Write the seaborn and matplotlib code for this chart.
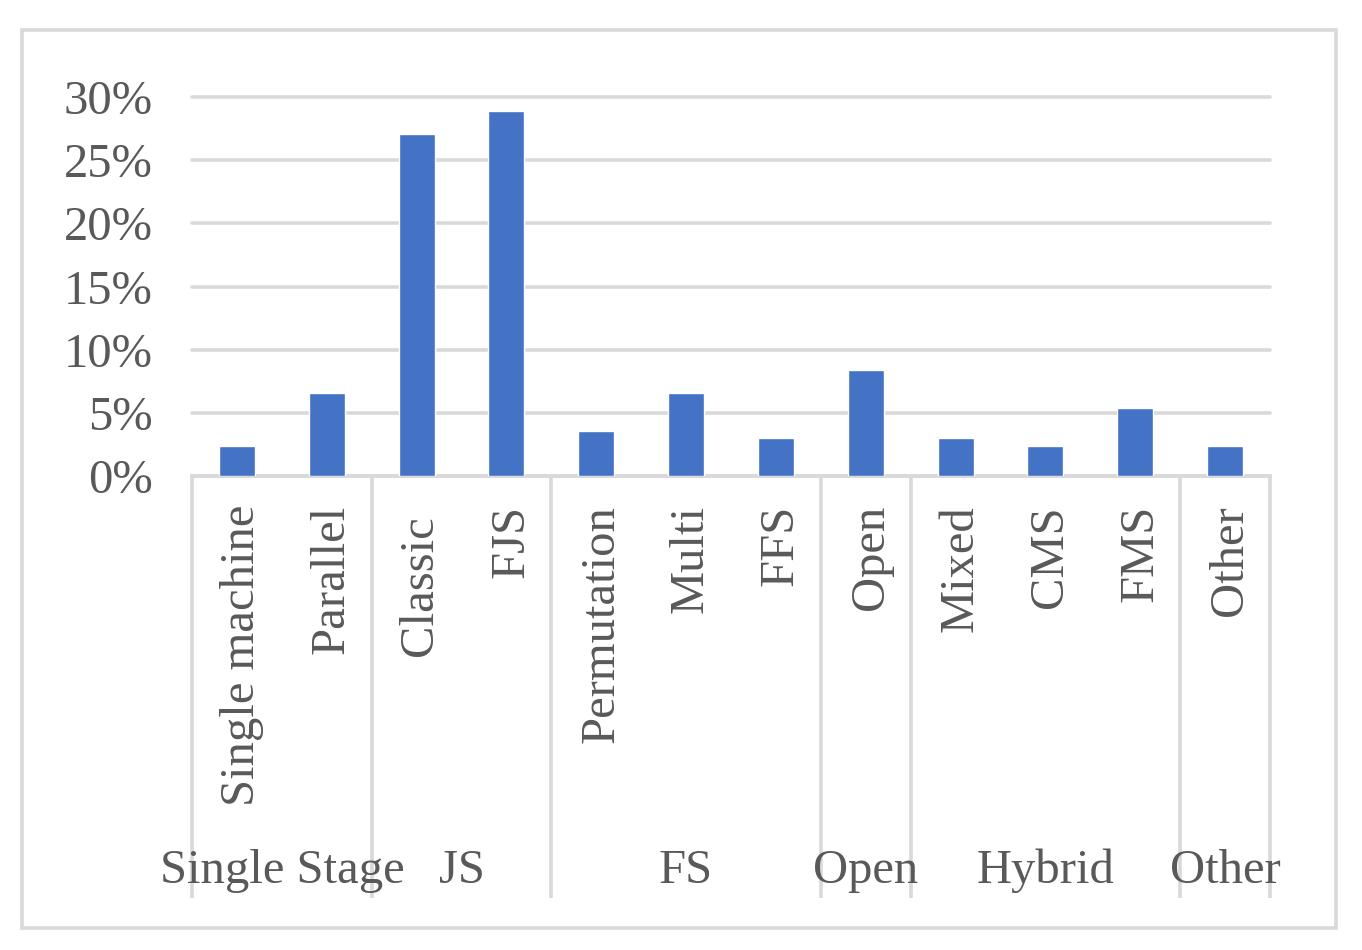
import matplotlib
matplotlib.use("Agg")
import matplotlib.pyplot as plt
import matplotlib.transforms as mtransforms
from matplotlib.patches import Rectangle
from matplotlib.ticker import PercentFormatter
import seaborn as sns

# ---- data ----
categories = ["Single machine", "Parallel", "Classic", "FJS", "Permutation", "Multi",
              "FFS", "Open", "Mixed", "CMS", "FMS", "Other"]
tick_labels = ["Single machine", "Parallel", "Classic ", "FJS", "Permutation", "Multi",
               "FFS", "Open", "Mixed", "CMS", "FMS", "Other"]
values = [0.0237, 0.0659, 0.2706, 0.2888, 0.0356, 0.0659,
          0.0300, 0.0839, 0.0300, 0.0237, 0.0538, 0.0237]
groups = ["Single Stage", "JS", "FS", "Open", "Hybrid", "Other"]
group_sizes = [2, 2, 3, 1, 3, 1]
y_ticks = [0.0, 0.05, 0.10, 0.15, 0.20, 0.25, 0.30]

sns.set_theme(style="white")
plt.rcParams["font.family"] = ["Liberation Serif", "DejaVu Serif"]

GRID = "#d9d9d9"
TXT = "#595959"
FS = 35

W, H = 1362, 950
fig = plt.figure(figsize=(W / 100, H / 100), dpi=100)
ax = fig.add_axes([192 / W, 1 - 476 / H, (1270 - 192) / W, (476 - 97) / H])

sns.barplot(x=categories, y=values, color="#4472C4", saturation=1, width=0.4, ax=ax)

ax.set_xlim(-0.5, len(categories) - 0.5)
ax.set_ylim(0, 0.30)
ax.set_yticks(y_ticks)
ax.yaxis.set_major_formatter(PercentFormatter(1.0, decimals=0))
ax.tick_params(axis="y", length=0, pad=28, labelsize=FS, labelcolor=TXT)
ax.set_xticks([])
ax.set_xlabel("")
ax.set_ylabel("")
ax.yaxis.grid(True, color=GRID, lw=2.6)
ax.set_axisbelow(True)
for gl in ax.get_ygridlines():
    gl.set_clip_on(False)
for s in ["top", "right", "left"]:
    ax.spines[s].set_visible(False)
ax.spines["bottom"].set_color(GRID)
ax.spines["bottom"].set_linewidth(2.6)
ax.spines["bottom"].set_zorder(0.5)

trans = mtransforms.blended_transform_factory(ax.transData, ax.transAxes)
shift = mtransforms.ScaledTranslation(5 / 100, 0, fig.dpi_scale_trans)

# inner level labels
for i, lab in enumerate(tick_labels):
    ax.text(i, -0.0765, lab, rotation=90, ha="center", va="top",
            fontsize=FS, color=TXT, transform=trans + shift)

# group separators and labels
bounds = [0]
for s in group_sizes:
    bounds.append(bounds[-1] + s)
for b in bounds:
    ax.plot([b - 0.5, b - 0.5], [0, -1.113], color=GRID, lw=2.6,
            transform=trans, clip_on=False, solid_capstyle="butt")
for g, a, b in zip(groups, bounds[:-1], bounds[1:]):
    ax.text((a + b) / 2 - 0.5, -1.074, g, ha="center", va="baseline",
            fontsize=FS, color=TXT, transform=trans)

# outer chart frame
fig.patches.append(Rectangle((22 / W, 1 - 928 / H), (1336 - 22) / W, (928 - 30) / H,
                             fill=False, ec=GRID, lw=2.6, transform=fig.transFigure))

fig.savefig("out.png", dpi=100, facecolor="white")
